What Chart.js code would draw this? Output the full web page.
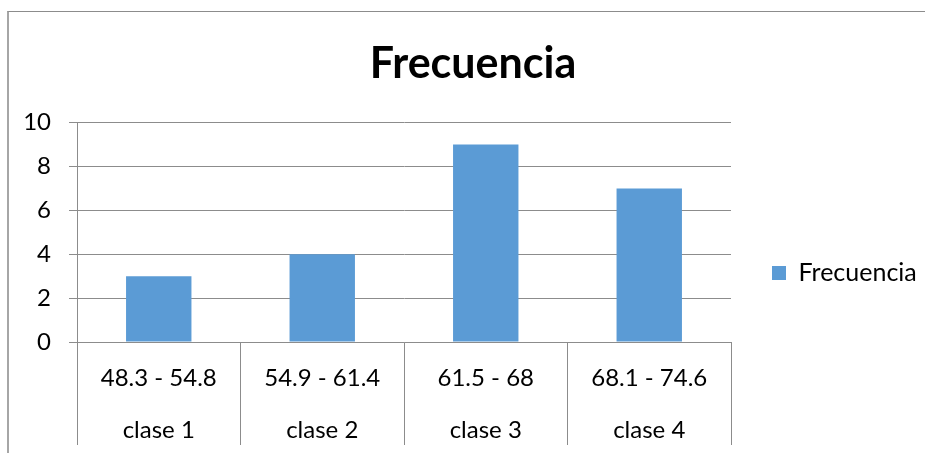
<!DOCTYPE html>
<html>
<head>
<meta charset="utf-8">
<script src="https://cdn.jsdelivr.net/npm/chart.js@4"></script>
<style>
  html, body { margin: 0; padding: 0; background: #fff; overflow: hidden; }
  #frame {
    position: absolute; left: 7px; top: 11px; width: 930px; height: 460px;
    border-left: 2px solid #a6a6a6; border-top: 1px solid #8c8c8c;
  }
  #wrap { position: absolute; left: 0; top: 0; width: 925px; height: 453px; }
</style>
</head>
<body>
<div id="frame"></div>
<div id="wrap"><canvas id="freqChart" width="925" height="453"></canvas></div>
<script>
// Datos de la tabla de frecuencias
const intervalos = ['48.3 - 54.8', '54.9 - 61.4', '61.5 - 68', '68.1 - 74.6'];
const clases = ['clase 1', 'clase 2', 'clase 3', 'clase 4'];
const frecuencias = [3, 4, 9, 7];
const yTicks = [0, 2, 4, 6, 8, 10];

const gridColor = '#8c8c8c';
const fontFamily = 'Lato, "Open Sans", sans-serif';

// etiquetas de dos niveles: intervalo arriba, clase abajo
const labels = intervalos.map((r, i) => [r, clases[i]]);

const ctx = document.getElementById('freqChart').getContext('2d');
new Chart(ctx, {
    type: 'bar',
    data: {
        labels: labels,
        datasets: [{
            label: 'Frecuencia',
            data: frecuencias,
            backgroundColor: '#5b9bd5',
            borderWidth: 0,
            categoryPercentage: 1,
            barPercentage: 0.4,
        }]
    },
    options: {
        responsive: false,
        animation: false,
        layout: { padding: { left: 0, right: 0, top: 0, bottom: 0 } },
        plugins: {
            title: {
                display: true,
                // los espacios iniciales corren el titulo un poco a la derecha, como en el original
                text: '  Frecuencia',
                color: '#000',
                font: { family: fontFamily, size: 43, weight: 'bold', lineHeight: 1.2 },
                padding: { top: 38, bottom: 33 },
            },
            legend: {
                position: 'right',
                align: 'start',
                fullSize: false,
                maxWidth: 194,
                title: {
                    display: true,
                    text: ' ',
                    font: { size: 10, lineHeight: 1.2 },
                    padding: { top: 42, bottom: 43 },
                },
                labels: {
                    boxWidth: 14,
                    boxHeight: 14,
                    padding: 41,
                    color: '#000',
                    font: { family: fontFamily, size: 25 },
                },
            },
            tooltip: { enabled: false },
        },
        scales: {
            x: {
                offset: true,
                grid: {
                    offset: true,
                    drawOnChartArea: false,
                    drawTicks: true,
                    tickLength: 103,
                    color: gridColor,
                },
                border: { display: true, color: gridColor },
                ticks: {
                    color: '#000',
                    padding: -93,
                    maxRotation: 0,
                    autoSkip: false,
                    font: { family: fontFamily, size: 24, lineHeight: '52px' },
                },
                afterFit: (scale) => { scale.height = 111; },
            },
            y: {
                min: 0,
                max: 10,
                afterBuildTicks: (scale) => { scale.ticks = yTicks.map(v => ({ value: v })); },
                grid: { color: gridColor, tickLength: 8 },
                border: { display: true, color: gridColor },
                ticks: {
                    color: '#000',
                    padding: 18,
                    font: { family: fontFamily, size: 24 },
                },
                afterFit: (scale) => { scale.width = 77; },
            }
        }
    }
});
</script>
</body>
</html>
